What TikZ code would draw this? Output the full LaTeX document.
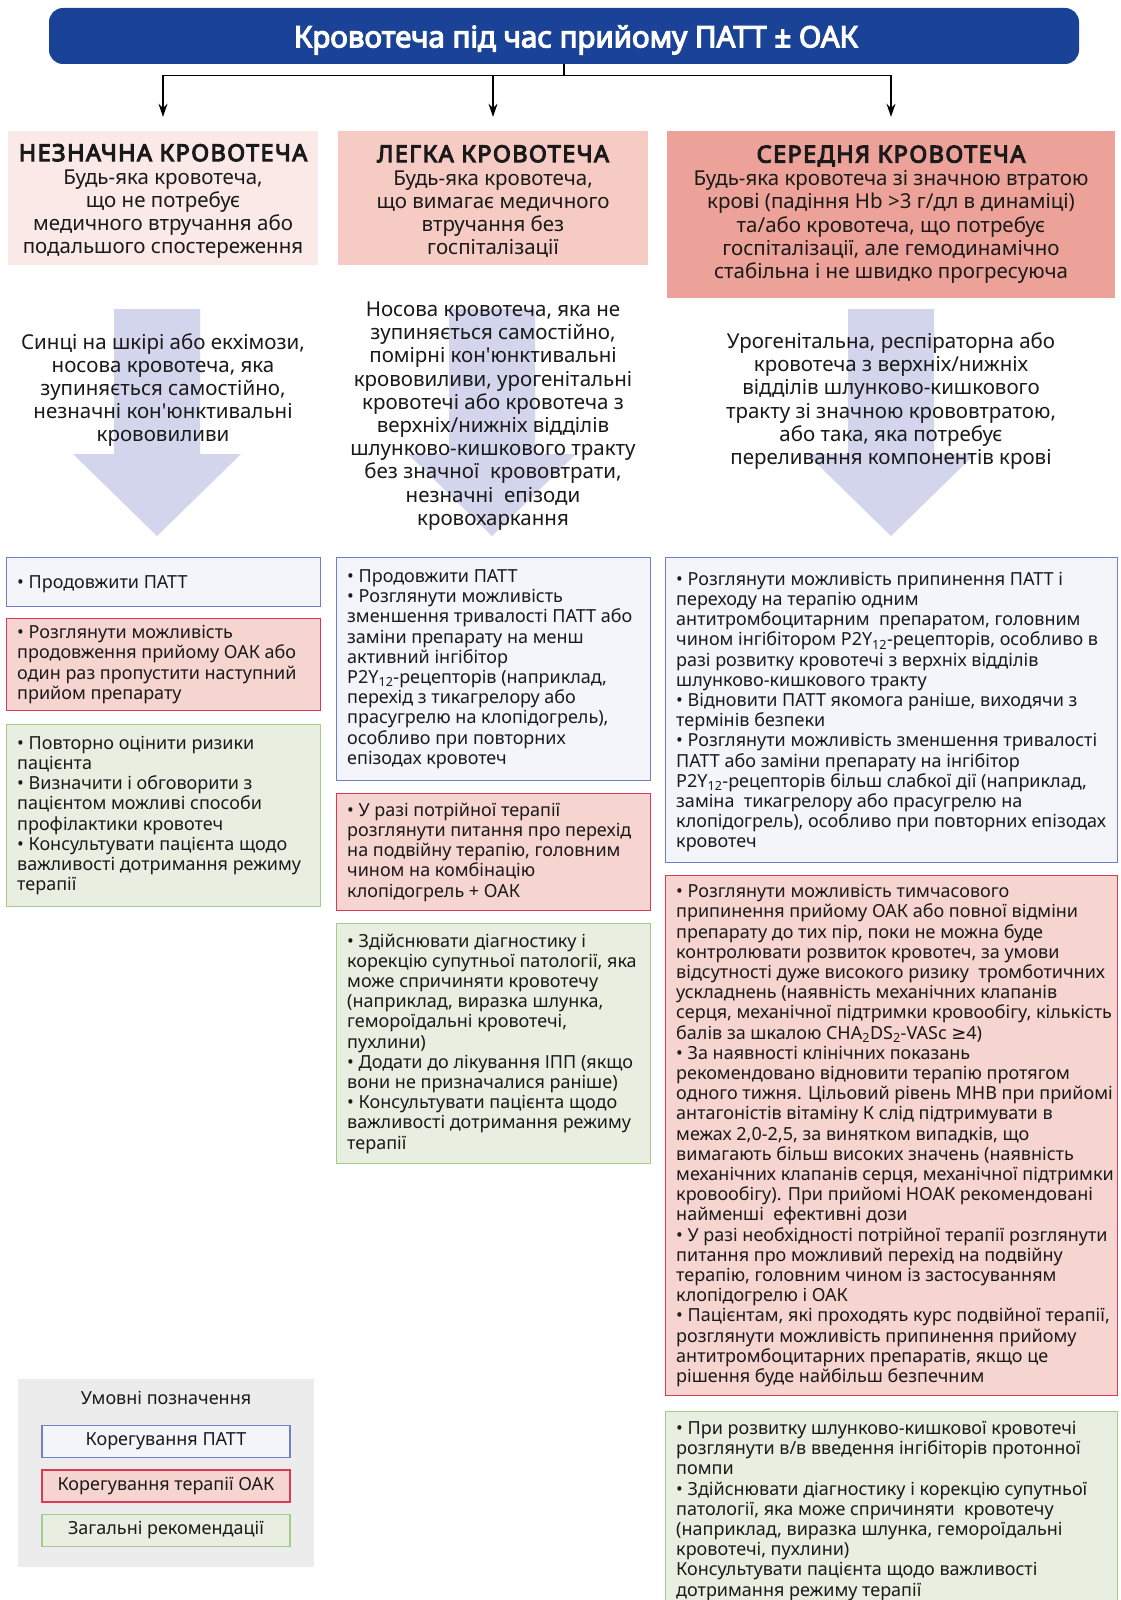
\documentclass[tikz,border=0pt]{standalone}
\usepackage{fontspec}
\setmainfont{Noto Sans}
\newfontfamily\myboldfam{Noto Sans}[FakeBold=4]
\newfontfamily\myheadfam{Noto Sans}[FakeBold=4.5,LetterSpace=6]
\newfontfamily\symfnt{DejaVu Sans}
\usetikzlibrary{arrows.meta}
\definecolor{titleblue}{HTML}{1A4397}
\definecolor{catA}{HTML}{FBE9E7}
\definecolor{catB}{HTML}{F5CBC4}
\definecolor{catC}{HTML}{ECA298}
\definecolor{arrowF}{HTML}{D3D5EC}
\definecolor{pattF}{HTML}{F4F5FB}
\definecolor{pattB}{HTML}{6F80C4}
\definecolor{oakF}{HTML}{F6D5D1}
\definecolor{oakB}{HTML}{DA3A5A}
\definecolor{genF}{HTML}{E8EFE1}
\definecolor{genB}{HTML}{A3CC8C}
\definecolor{legF}{HTML}{ECECEC}
\definecolor{txt}{HTML}{1A1A1A}
\newcommand\myboxfont{\fontsize{18}{20.2}\selectfont}
\newcommand\mycatfont{\fontsize{20.5}{23.2}\selectfont}
\newcommand\myheadfont{\fontsize{23.5}{27}\selectfont\myheadfam}
\newcommand\subtw{\textsubscript{12}}
\newcommand\apo{\textquotesingle}
\tikzset{
  catbox/.style={rectangle, inner sep=0pt},
  cattext/.style={inner sep=0pt, align=center, text=txt, font=\mycatfont},
  pattbox/.style={rectangle, draw=pattB, fill=pattF, line width=1.2pt, inner sep=0pt, anchor=north west},
  oakbox/.style={rectangle, draw=oakB, fill=oakF, line width=1.2pt, inner sep=0pt, anchor=north west},
  genbox/.style={rectangle, draw=genB, fill=genF, line width=1.2pt, inner sep=0pt, anchor=north west},
  boxtext/.style={inner sep=0pt, align=left, anchor=west, font=\myboxfont, text=txt},
  arrowtext/.style={inner sep=0pt, align=center, font=\mycatfont, text=txt},
  bigarrow/.style={fill=arrowF},
  conn/.style={draw=black, line width=1.3pt, -{Stealth[length=13pt,width=9pt]}},
  legbox/.style={rectangle, line width=1.2pt, minimum width=248pt, minimum height=32pt, inner sep=0pt, font=\myboxfont, text=txt},
}
\begin{document}
\begin{tikzpicture}[x=1pt,y=-1pt]
\useasboundingbox (0,0) rectangle (1121,1600);
\fill[white] (0,0) rectangle (1121,1600);

% title
\node[rectangle, rounded corners=14pt, fill=titleblue, minimum width=1030pt, minimum height=56pt, text=white, font=\fontsize{29.5}{34}\selectfont\myboldfam] (title) at (564,36) {\hspace{24pt}\raisebox{-4pt}[\height][\depth]{Кровотеча під час прийому ПАТТ ± ОАК}};

% category boxes
\node[catbox, fill=catA, minimum width=310pt, minimum height=134pt] (c1) at (163,198) {};
\node[cattext] (c1t) at ([yshift=-3.5pt]c1.center)
 {{\myheadfont НЕЗНАЧНА КРОВОТЕЧА}\\[0pt] Будь-яка кровотеча,\\ що не потребує\\ медичного втручання або\\ подальшого спостереження};
\node[catbox, fill=catB, minimum width=310pt, minimum height=134pt] (c2) at (493,198) {};
\node[cattext] (c2t) at ([yshift=-3.5pt]c2.center)
 {{\myheadfont ЛЕГКА КРОВОТЕЧА}\\[0pt] Будь-яка кровотеча,\\ що вимагає медичного\\ втручання без\\ госпіталізації};
\node[catbox, fill=catC, minimum width=448pt, minimum height=167pt] (c3) at (891,214.5) {};
\node[cattext] (c3t) at (c3.center)
 {{\myheadfont СЕРЕДНЯ КРОВОТЕЧА}\\[0pt] Будь-яка кровотеча зі значною втратою\\ крові (падіння Hb >3 г/дл в динаміці)\\ та/або кровотеча, що потребує\\ госпіталізації, але гемодинамічно\\ стабільна і не швидко прогресуюча};

% connectors
\draw[line width=1.3pt] (title.south) -- ++(0,11) coordinate (j);
\draw[conn] (j) -| ([yshift=14pt]c1.north);
\draw[conn] (j) -| ([yshift=14pt]c2.north);
\draw[conn] (j) -| ([yshift=14pt]c3.north);

% big arrows
\foreach \cx in {157,492,891}{
  \fill[bigarrow] (\cx-43,309) -- (\cx+43,309) -- (\cx+43,454) -- (\cx+84,454) -- (\cx,536) -- (\cx-84,454) -- (\cx-43,454) -- cycle;
}

\node[arrowtext] (t1) at (163,390) {Синці на шкірі або екхімози,\\ носова кровотеча, яка\\ зупиняється самостійно,\\ незначні кон\apo юнктивальні\\ крововиливи};
\node[arrowtext] (t2) at (493,416) {Носова кровотеча, яка не\\ зупиняється самостійно,\\ помірні кон\apo юнктивальні\\ крововиливи, урогенітальні\\ кровотечі або кровотеча з\\ верхніх/нижніх відділів\\ шлунково-кишкового тракту\\ без значної\ \ крововтрати,\\ незначні\ \ епізоди\\ кровохаркання};
\node[arrowtext] (t3) at (891,401) {Урогенітальна, респіраторна або\\ кровотеча з верхніх/нижніх\\ відділів шлунково-кишкового\\ тракту зі значною крововтратою,\\ або така, яка потребує\\ переливання компонентів крові};

% column 1
\node[pattbox, minimum width=314pt, minimum height=49pt] (b1) at (6,557) {};
\node[boxtext] (b1t) at ([xshift=11pt,yshift=-2pt]b1.west) {• Продовжити ПАТТ};
\node[oakbox, minimum width=314pt, minimum height=92pt] (r1) at (6,618) {};
\node[boxtext] (r1t) at ([xshift=11pt]r1.west) {• Розглянути можливість\\ продовження прийому ОАК або\\ один раз пропустити наступний\\ прийом препарату};
\node[genbox, minimum width=314pt, minimum height=182pt] (g1) at (6,724) {};
\node[boxtext] (g1t) at ([xshift=11pt]g1.west) {• Повторно оцінити ризики\\ пацієнта\\ • Визначити і обговорити з\\ пацієнтом можливі способи\\ профілактики кровотеч\\ • Консультувати пацієнта щодо\\ важливості дотримання режиму\\ терапії};

% column 2
\node[pattbox, minimum width=314pt, minimum height=223pt] (b2) at (336,557) {};
\node[boxtext] (b2t) at ([xshift=11pt]b2.west) {• Продовжити ПАТТ\\ • Розглянути можливість\\ зменшення тривалості ПАТТ або\\ заміни препарату на менш\\ активний інгібітор\\ P2Y\subtw-рецепторів (наприклад,\\ перехід з тикагрелору або\\ прасугрелю на клопідогрель),\\ особливо при повторних\\ епізодах кровотеч};
\node[oakbox, minimum width=314pt, minimum height=117pt] (r2) at (336,793) {};
\node[boxtext] (r2t) at ([xshift=11pt]r2.west) {• У разі потрійної терапії\\ розглянути питання про перехід\\ на подвійну терапію, головним\\ чином на комбінацію\\ клопідогрель + ОАК};
\node[genbox, minimum width=314pt, minimum height=240pt] (g2) at (336,923) {};
\node[boxtext] (g2t) at ([xshift=11pt]g2.west) {• Здійснювати діагностику і\\ корекцію супутньої патології, яка\\ може спричиняти кровотечу\\ (наприклад, виразка шлунка,\\ гемороїдальні кровотечі,\\ пухлини)\\ • Додати до лікування ІПП (якщо\\ вони не призначалися раніше)\\ • Консультувати пацієнта щодо\\ важливості дотримання режиму\\ терапії};

% column 3
\node[pattbox, minimum width=452pt, minimum height=305pt] (b3) at (665,557) {};
\node[boxtext] (b3t) at ([xshift=11pt,yshift=-2pt]b3.west) {• Розглянути можливість припинення ПАТТ і\\ переходу на терапію одним\\ антитромбоцитарним\ \ препаратом, головним\\ чином інгібітором P2Y\subtw-рецепторів, особливо в\\ разі розвитку кровотечі з верхніх відділів\\ шлунково-кишкового тракту\\ • Відновити ПАТТ якомога раніше, виходячи з\\ термінів безпеки\\ • Розглянути можливість зменшення тривалості\\ ПАТТ або заміни препарату на інгібітор\\ P2Y\subtw-рецепторів більш слабкої дії (наприклад,\\ заміна\ \ тикагрелору або прасугрелю на\\ клопідогрель), особливо при повторних епізодах\\ кровотеч};
\node[oakbox, minimum width=452pt, minimum height=520pt] (r3) at (665,875) {};
\node[boxtext] (r3t) at ([xshift=11pt]r3.west) {• Розглянути можливість тимчасового\\ припинення прийому ОАК або повної відміни\\ препарату до тих пір, поки не можна буде\\ контролювати розвиток кровотеч, за умови\\ відсутності дуже високого ризику\ \ тромботичних\\ ускладнень (наявність механічних клапанів\\ серця, механічної підтримки кровообігу, кількість\\ балів за шкалою CHA\textsubscript{2}DS\textsubscript{2}-VASc {\symfnt ≥}4)\\ • За наявності клінічних показань\\ рекомендовано відновити терапію протягом\\ одного тижня. Цільовий рівень МНВ при прийомі\\ антагоністів вітаміну К слід підтримувати в\\ межах 2,0-2,5, за винятком випадків, що\\ вимагають більш високих значень (наявність\\ механічних клапанів серця, механічної підтримки\\ кровообігу). При прийомі НОАК рекомендовані\\ найменші\ \ ефективні дози\\ • У разі необхідності потрійної терапії розглянути\\ питання про можливий перехід на подвійну\\ терапію, головним чином із застосуванням\\ клопідогрелю і ОАК\\ • Пацієнтам, які проходять курс подвійної терапії,\\ розглянути можливість припинення прийому\\ антитромбоцитарних препаратів, якщо це\\ рішення буде найбільш безпечним};
\node[genbox, minimum width=452pt, minimum height=200pt] (g3) at (665,1411) {};
\node[boxtext, anchor=north west] (g3t) at ([xshift=11pt,yshift=-10pt]g3.north west) {• При розвитку шлунково-кишкової кровотечі\\ розглянути в/в введення інгібіторів протонної\\ помпи\\ • Здійснювати діагностику і корекцію супутньої\\ патології, яка може спричиняти\ \ кровотечу\\ (наприклад, виразка шлунка, гемороїдальні\\ кровотечі, пухлини)\\ Консультувати пацієнта щодо важливості\\ дотримання режиму терапії};

% legend
\node[rectangle, fill=legF, minimum width=296pt, minimum height=188pt, inner sep=0pt] (lg) at (166,1473) {};
\node[inner sep=0pt, font=\myboxfont, text=txt] (lgt) at (166,1398) {Умовні позначення};
\node[legbox, draw=pattB, fill=pattF] (lb) at (166,1441.5) {Корегування ПАТТ};
\node[legbox, draw=oakB, fill=oakF] (lr) at (166,1486) {Корегування терапії ОАК};
\node[legbox, draw=genB, fill=genF] (lgn) at (166,1530.5) {Загальні рекомендації};
\end{tikzpicture}
\end{document}
